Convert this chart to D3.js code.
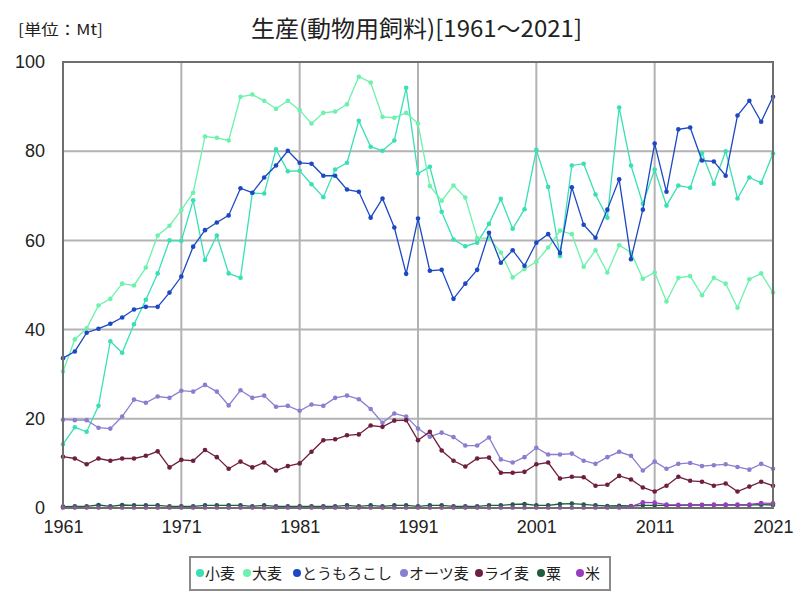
<!DOCTYPE html>
<html><head><meta charset="utf-8">
<script src="https://cdn.jsdelivr.net/npm/d3@7"></script>
<style>body{margin:0;background:#fff}</style>
</head><body><svg id="c" width="800" height="600"></svg>
<script>
const years = d3.range(1961, 2022);
const seriesNames = ["小麦","大麦","とうもろこし","オーツ麦","ライ麦","粟","米"];
const wheat = [14.3,18.1,17.1,22.9,37.4,34.8,41.2,46.7,52.6,60.0, 59.9,69.0,55.6,61.1,52.6,51.6,70.6,70.5,80.4,75.5,
  75.6,72.6,69.7,75.9,77.4,86.8,81.0,80.1,82.4,94.2, 75.0,76.5,66.4,60.2,58.7,59.5,63.7,69.3,62.6,67.0,
  80.3,72.0,56.5,76.8,77.2,70.3,65.1,89.8,76.8,68.2, 75.9,67.8,72.3,71.8,79.6,72.7,80.0,69.4,74.1,72.9,79.5];
const barley = [30.6,37.8,40.3,45.4,46.9,50.3,49.9,53.9,61.1,63.3, 66.8,70.7,83.3,83.0,82.4,92.2,92.7,91.3,89.5,91.3,
  89.2,86.2,88.6,88.9,90.5,96.7,95.4,87.7,87.5,88.6, 86.2,72.2,68.9,72.3,69.6,60.5,60.5,57.3,51.7,53.6,
  55.2,58.4,62.2,61.4,54.1,57.8,52.8,58.9,57.3,51.4, 52.8,46.3,51.6,52.0,47.7,51.6,50.3,44.9,51.3,52.6,48.3];
const corn = [33.6,35.1,39.3,40.2,41.3,42.7,44.5,45.1,45.1,48.3, 51.9,58.6,62.3,64.0,65.6,71.7,70.7,74.1,76.8,80.1,
  77.4,77.2,74.5,74.5,71.4,70.9,65.1,69.4,62.9,52.5, 64.9,53.2,53.4,46.9,50.3,53.4,61.7,55.0,57.8,54.3,
  59.5,61.4,57.2,71.9,63.5,60.6,66.9,73.7,55.8,66.9, 81.7,70.9,84.9,85.3,77.9,77.7,74.5,88.0,91.3,86.6,92.2];
const oats = [19.8,19.7,19.7,18.0,17.8,20.5,24.3,23.6,25.0,24.7, 26.3,26.1,27.6,26.1,23.0,26.4,24.7,25.2,22.7,22.9,
  21.8,23.2,22.9,24.7,25.2,24.4,22.2,19.1,21.2,20.5, 17.8,16.0,16.9,15.9,14.0,14.0,15.8,10.9,10.2,11.4,
  13.5,12.0,12.0,12.2,10.6,9.9,11.4,12.6,11.7,8.4, 10.4,8.8,9.9,10.1,9.4,9.6,9.8,9.2,8.6,9.9,8.8];
const rye = [11.5,11.1,9.8,11.1,10.6,11.1,11.1,11.7,12.7,9.1, 10.8,10.6,13.0,11.4,8.8,10.4,9.1,10.2,8.4,9.4,
  10.0,12.6,15.2,15.4,16.3,16.5,18.5,18.2,19.6,19.7, 15.2,17.1,12.9,10.6,9.3,11.1,11.3,7.9,7.9,8.1,
  9.8,10.2,6.6,7.0,6.9,5.0,5.2,7.2,6.4,4.6, 3.7,5.0,7.0,6.1,5.9,5.0,5.5,3.7,4.8,5.9,5.0];
const millet = [0.3,0.37,0.37,0.67,0.37,0.67,0.6,0.6,0.6,0.37, 0.37,0.37,0.6,0.6,0.6,0.6,0.37,0.6,0.37,0.37,
  0.37,0.37,0.37,0.37,0.6,0.37,0.6,0.37,0.6,0.6, 0.37,0.6,0.6,0.37,0.37,0.37,0.6,0.6,0.8,0.9,
  0.6,0.6,0.9,1.0,0.8,0.6,0.45,0.5,0.45,0.6, 0.6,0.6,0.6,0.67,0.67,0.67,0.67,0.67,0.67,0.75,0.67];
const rice = [0.1,0.1,0.1,0.1,0.1,0.1,0.1,0.1,0.1,0.1, 0.1,0.1,0.1,0.1,0.1,0.1,0.1,0.1,0.1,0.1,
  0.1,0.1,0.1,0.1,0.1,0.1,0.1,0.1,0.1,0.1, 0.1,0.1,0.1,0.1,0.1,0.1,0.1,0.1,0.1,0.1,
  0.1,0.1,0.1,0.1,0.1,0.1,0.1,0.1,0.3,1.27, 1.2,0.75,0.7,0.7,0.7,0.75,0.75,0.75,0.8,1.1,1.05];
const xTicks = [1961,1971,1981,1991,2001,2011,2021];
const yTicks = [0,20,40,60,80,100];
const colors = ["#38e0b4","#6cf2ac","#1c48c4","#8a7ed0","#6e1f40","#1f5c40","#9a3cc0"];
const allSeries = [wheat,barley,corn,oats,rye,millet,rice];

const svg = d3.select("#c");
const L=63,R=773,T=62,B=508;
const x = d3.scaleLinear().domain([1961,2021]).range([L,R]);
const y = d3.scaleLinear().domain([0,100]).range([B,T]);

// gridlines
svg.append("g").selectAll("line.v").data(xTicks.slice(1,-1)).join("line")
  .attr("x1",d=>x(d)).attr("x2",d=>x(d)).attr("y1",T).attr("y2",B)
  .attr("stroke","#b3b3b3").attr("stroke-width",2);
svg.append("g").selectAll("line.h").data(yTicks.slice(1,-1)).join("line")
  .attr("x1",L).attr("x2",R).attr("y1",d=>y(d)).attr("y2",d=>y(d))
  .attr("stroke","#b3b3b3").attr("stroke-width",2);

// axes labels
const numFont = "'Liberation Sans Narrow','Liberation Sans',Arial,sans-serif";
const yAxis = svg.append("g").attr("transform",`translate(${L},0)`)
  .call(d3.axisLeft(y).tickValues(yTicks).tickSize(0).tickPadding(18));
const xAxis = svg.append("g").attr("transform",`translate(0,${B})`)
  .call(d3.axisBottom(x).tickValues(xTicks).tickFormat(d3.format("d")).tickSize(0).tickPadding(12));
[yAxis,xAxis].forEach(a=>{a.select(".domain").remove();
  a.selectAll("text").attr("font-family",numFont).attr("font-size",18).attr("fill","#222");});

// lines
const line = d3.line().x((d,i)=>x(years[i])).y(d=>y(d));
allSeries.forEach((s,k)=>{
  const g = svg.append("g");
  g.append("path").datum(s).attr("d",line).attr("fill","none")
    .attr("stroke",colors[k]).attr("stroke-width",1.3);
  g.selectAll("circle").data(s).join("circle")
    .attr("cx",(d,i)=>x(years[i])).attr("cy",d=>y(d)).attr("r",2.3).attr("fill",colors[k]);
});

// frame
svg.append("rect").attr("x",L).attr("y",T).attr("width",R-L).attr("height",B-T)
  .attr("fill","none").attr("stroke","#6f6f6f").attr("stroke-width",2);

const jpFont = "'Noto Sans CJK JP','Noto Sans',sans-serif";
// title
svg.append("text").attr("x",251).attr("y",37).attr("font-family",jpFont).attr("font-size",23)
  .attr("fill","#222").attr("textLength",331).attr("lengthAdjust","spacingAndGlyphs")
  .text("生産(動物用飼料)[1961～2021]");
svg.append("text").attr("x",18).attr("y",35).attr("font-family",jpFont).attr("font-size",15)
  .attr("fill","#222").attr("textLength",85).attr("lengthAdjust","spacingAndGlyphs")
  .text("[単位：Mt]");

// legend
svg.append("rect").attr("x",190).attr("y",557).attr("width",420).attr("height",33)
  .attr("fill","#fff").attr("stroke","#8a8a8a").attr("stroke-width",2);
const legX = [200,247,297,404,479,541,580];
seriesNames.forEach((n,k)=>{
  svg.append("circle").attr("cx",legX[k]).attr("cy",573).attr("r",4).attr("fill",colors[k]);
  svg.append("text").attr("x",legX[k]+5).attr("y",579).attr("font-family",jpFont)
    .attr("font-size",15).attr("fill","#222").text(n);
});
</script></body></html>
